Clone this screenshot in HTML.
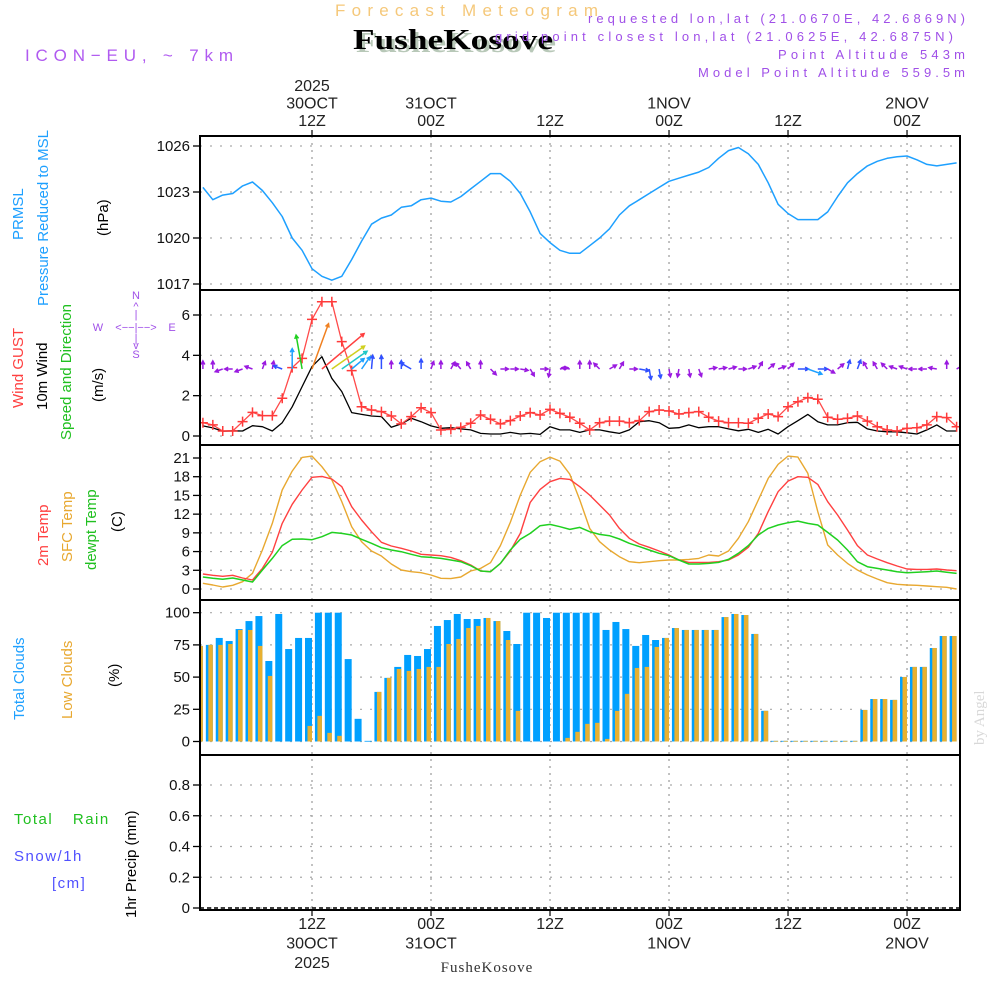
<!DOCTYPE html>
<html><head><meta charset="utf-8"><title>Forecast Meteogram FusheKosove</title>
<style>
html,body{margin:0;padding:0;background:#fff;}
svg{display:block;font-family:"Liberation Sans",sans-serif;}
.tk{font-size:15px;fill:#111;}
</style></head>
<body>
<svg id="chart" width="1000" height="1000" viewBox="0 0 1000 1000" xmlns="http://www.w3.org/2000/svg">
<defs>
<clipPath id="plotclip"><rect x="200" y="136" width="760" height="774"/></clipPath>
</defs>
<!-- header -->
<text x="335" y="16" font-size="17" fill="#f5c87a" textLength="263" lengthAdjust="spacing">Forecast Meteogram</text>
<text x="356" y="52" font-size="28" font-weight="bold" font-family="Liberation Serif, serif" fill="#b8c8b8" textLength="200" lengthAdjust="spacingAndGlyphs">FusheKosove</text>
<text x="353" y="49" font-size="28" font-weight="bold" font-family="Liberation Serif, serif" fill="#000" textLength="200" lengthAdjust="spacingAndGlyphs">FusheKosove</text>
<text x="25" y="61" font-size="17" fill="#b05af0" textLength="208" lengthAdjust="spacing">ICON−EU, ~ 7km</text>
<g font-size="13" fill="#a050e8">
<text x="588" y="23" textLength="377" lengthAdjust="spacing">requested lon,lat (21.0670E, 42.6869N)</text>
<text x="495" y="41" textLength="458" lengthAdjust="spacing">grid point closest lon,lat (21.0625E, 42.6875N)</text>
<text x="778" y="59" textLength="187" lengthAdjust="spacing">Point Altitude 543m</text>
<text x="698" y="77" textLength="267" lengthAdjust="spacing">Model Point Altitude 559.5m</text>
</g>
<text transform="translate(984,745) rotate(-90)" font-size="15" fill="#d8d8d8" font-family="Liberation Serif, serif">by Angel</text>
<text x="487" y="972" text-anchor="middle" font-size="15" font-family="Liberation Serif, serif" fill="#333" letter-spacing="1">FusheKosove</text>

<!-- left axis titles -->
<g font-size="15">
<text transform="translate(23,240) rotate(-90)" fill="#1ea0ff">PRMSL</text>
<text transform="translate(48,306) rotate(-90)" fill="#1ea0ff">Pressure Reduced to MSL</text>
<text transform="translate(108,236) rotate(-90)" fill="#000">(hPa)</text>
</g>
<g font-size="15">
<text transform="translate(23,408) rotate(-90)" fill="#ff4040">Wind GUST</text>
<text transform="translate(47,410) rotate(-90)" fill="#000">10m Wind</text>
<text transform="translate(71,440) rotate(-90)" fill="#20c020">Speed and Direction</text>
<text transform="translate(103,402) rotate(-90)" fill="#000">(m/s)</text>
</g>
<g font-size="11" fill="#a050e8" text-anchor="middle">
<text x="136" y="299">N</text><text x="136" y="310">^</text><text x="136" y="318">|</text>
<text x="136" y="331">&lt;−−|−−&gt;</text>
<text x="98" y="331">W</text><text x="172" y="331">E</text>
<text x="136" y="342">|</text><text x="136" y="349">v</text><text x="136" y="358">S</text>
</g>
<g font-size="15">
<text transform="translate(48,566) rotate(-90)" fill="#ff4040">2m Temp</text>
<text transform="translate(72,562) rotate(-90)" fill="#e8a830">SFC Temp</text>
<text transform="translate(96,570) rotate(-90)" fill="#20c020">dewpt Temp</text>
<text transform="translate(122,532) rotate(-90)" fill="#000">(C)</text>
</g>
<g font-size="15">
<text transform="translate(24,720) rotate(-90)" fill="#1ea0ff">Total Clouds</text>
<text transform="translate(72,719) rotate(-90)" fill="#e8a830">Low Clouds</text>
<text transform="translate(119,687) rotate(-90)" fill="#000">(%)</text>
</g>
<g font-size="15" letter-spacing="1.5">
<text x="14" y="824" fill="#20c020">Total <tspan dx="14">Rain</tspan></text>
<text x="14" y="861" fill="#5050ff">Snow/1h</text>
<text x="52" y="888" fill="#5050ff">[cm]</text>
<text transform="translate(136,918) rotate(-90)" fill="#000" letter-spacing="0">1hr Precip (mm)</text>
</g>

<g id="grid"></g>
<g id="bars" clip-path="url(#plotclip)"></g>
<g id="lines" clip-path="url(#plotclip)"></g>
<g id="axes"></g>
</svg>
<script>
// ---------- data (hourly, starting 30OCT 01Z) ----------
const timeLabelsTop = [["2025","30OCT","12Z"],["31OCT","00Z"],["12Z"],["1NOV","00Z"],["12Z"],["2NOV","00Z"]];
const timeLabelsBottom = [["12Z","30OCT","2025"],["00Z","31OCT"],["12Z"],["00Z","1NOV"],["12Z"],["00Z","2NOV"]];
const timeLabelHours = [12,24,36,48,60,72];
const pressure = [1023.3,1022.5,1022.8,1022.9,1023.4,1023.65,1023.1,1022.3,1021.4,1020.0,
1019.2,1018.0,1017.5,1017.25,1017.5,1018.6,1019.8,1020.9,1021.3,1021.5,
1022.0,1022.1,1022.5,1022.6,1022.4,1022.35,1022.7,1023.2,1023.7,1024.2,
1024.2,1023.7,1022.9,1021.7,1020.3,1019.7,1019.2,1019.0,1019.0,1019.5,
1020.0,1020.6,1021.5,1022.1,1022.5,1022.9,1023.3,1023.7,1023.9,1024.1,
1024.3,1024.6,1025.2,1025.7,1025.9,1025.5,1024.8,1023.6,1022.2,1021.6,
1021.2,1021.2,1021.2,1021.7,1022.7,1023.6,1024.2,1024.7,1025.0,1025.2,
1025.3,1025.35,1025.1,1024.8,1024.7,1024.8,1024.9];
const pressureTicks = [1017,1020,1023,1026];
const gust = [0.66,0.55,0.25,0.25,0.71,1.17,1.01,1.01,1.87,3.39,
3.85,5.78,6.66,6.66,4.68,3.24,1.45,1.29,1.21,0.99,
0.6,0.96,1.40,1.16,0.3,0.33,0.43,0.63,1.04,0.83,
0.6,0.76,0.99,1.16,1.04,1.32,1.12,0.93,0.63,0.3,
0.66,0.74,0.74,0.66,0.76,1.21,1.29,1.24,1.09,1.16,
1.21,0.93,0.74,0.66,0.66,0.63,0.88,1.09,0.96,1.45,
1.7,1.9,1.82,0.93,0.83,0.88,0.99,0.74,0.46,0.3,
0.25,0.38,0.41,0.55,0.96,0.91,0.46];
const windSpeed = [0.5,0.4,0.24,0.26,0.25,0.51,0.46,0.25,0.66,1.45,
2.45,3.44,3.93,2.86,2.2,1.16,1.07,0.99,0.96,0.43,
0.6,0.88,0.71,0.5,0.38,0.41,0.35,0.3,0.13,0.1,
0.1,0.18,0.1,0.13,0.08,0.46,0.3,0.3,0.18,0.3,
0.3,0.21,0.13,0.3,0.71,0.76,0.66,0.38,0.41,0.55,
0.41,0.46,0.46,0.35,0.26,0.33,0.18,0.33,0.1,0.46,
0.76,1.07,0.71,0.55,0.55,0.66,0.68,0.35,0.25,0.21,
0.21,0.16,0.1,0.3,0.55,0.25,0.25];
const windDir = [90,90,200,180,200,160,70,80,160,90,
100,70,40,35,35,40,55,85,90,90,
90,150,90,70,90,60,130,120,90,-45,
0,0,-10,-60,0,-100,10,170,90,90,
135,30,60,0,-10,-80,-80,-80,-100,-80,
-70,10,10,15,0,20,60,40,20,45,
0,-20,0,-30,40,75,70,120,120,135,
160,160,180,180,170,90,30];
const windTicks = [0,2,4,6];
const temp2m = [2.4,2.19,2.03,2.19,1.76,1.44,3.31,5.88,10.52,13.57,
15.87,17.9,18.05,17.63,16.4,13.2,11.06,9.19,7.48,6.89,
6.52,6.09,5.56,5.45,5.34,5.07,4.54,3.85,2.88,2.78,
4.11,6.09,8.92,13.89,15.97,17.2,17.73,17.57,16.4,15.06,
13.46,11.86,9.72,8.12,7.21,6.68,6.09,5.45,4.65,4.27,
4.27,4.27,4.38,4.65,5.45,6.68,8.92,12.4,15.6,17.3,
18.0,17.9,16.77,14.0,11.86,9.46,6.95,5.45,4.81,4.22,
3.69,3.2,3.15,3.15,3.2,3.04,2.94];
const tempSfc = [0.91,0.64,0.32,0.59,1.17,2.51,6.25,10.52,15.87,18.9,
21.1,21.3,19.6,17.5,14.0,9.99,7.58,6.09,5.29,4.0,
3.04,2.78,2.61,2.24,1.71,1.66,1.92,2.88,3.31,4.22,
6.95,10.68,15.06,18.7,20.4,21.15,20.5,18.4,14.26,9.72,
7.58,6.25,5.18,4.38,4.22,4.38,4.54,4.65,4.65,4.75,
4.91,5.45,5.29,6.09,8.12,10.79,14.26,17.73,19.97,21.3,
21.15,18.54,12.39,7.05,5.45,4.11,3.04,2.24,1.6,1.01,
0.75,0.64,0.59,0.48,0.37,0.27,0.0];
const dewpt = [1.92,1.71,1.55,1.76,1.44,1.12,3.04,4.91,6.95,7.96,
8.01,7.91,8.39,9.08,8.92,8.65,7.96,7.32,6.62,6.25,
5.98,5.56,5.18,5.07,4.91,4.65,4.38,3.74,2.88,2.78,
4.11,6.25,7.96,8.92,10.15,10.36,9.99,9.56,9.88,9.19,
8.76,8.55,8.01,7.32,6.79,6.25,5.72,5.34,4.65,4.0,
4.0,4.11,4.27,4.75,5.72,6.95,8.65,9.72,10.26,10.63,
10.89,10.52,10.26,9.08,7.85,6.25,4.38,3.58,3.31,3.04,
2.78,2.61,2.67,2.78,2.88,2.67,2.5];
const tempTicks = [0,3,6,9,12,15,18,21];
const totalClouds = [74.2,75,80.4,78,87.3,93.5,97.4,62.5,99,71.8,
80.4,80.4,100,100,100,64,17.6,0.5,38.5,49.4,
57.9,67.2,66.4,71.8,89.7,94.3,99,95.1,95.1,95.9,
93.5,85.8,75.7,100,100,95.9,100,100,100,100,
100,86.6,92.8,87.3,74.2,82.7,78.8,80.4,88.1,86.6,
86.6,86.6,86.6,96.6,99,98.2,83.5,23.8,0.5,0.5,
0.5,0.5,0.5,0.5,0.5,0.5,0.5,24.5,33,33,
32.3,50.1,57.9,57.9,72.6,81.9,81.9];
const lowClouds = [74.2,75,75,75.7,86.6,86.6,74.2,50.9,0,0,
0,12.1,19.9,6.7,4.4,0,0,0,38.5,49.4,
56.3,54.8,56.3,57.9,57.9,75.7,79.6,88.1,89.7,95.9,
93.5,78.8,23.8,0,0,0,0,2.8,7.5,13.7,
14.5,2,23.8,37,57.1,57.9,73.4,80.4,88.1,86.6,
86.6,86.6,86.6,96.6,99,98.2,83.5,23.8,0.5,0.5,
0.5,0.5,0.5,0.5,0.5,0.5,0.5,24.5,33,33,
32.3,50.1,57.9,57.9,72.6,81.9,81.9];
const cloudTicks = [0,25,50,75,100];
const precip = [0,0,0,0,0,0,0,0,0,0,0,0,0,0,0,0,0,0,0,0,0,0,0,0,0,0,0,0,0,0,0,0,0,0,0,0,0,0,0,0,0,0,0,0,0,0,0,0,0,0,0,0,0,0,0,0,0,0,0,0,0,0,0,0,0,0,0,0,0,0,0,0,0,0,0,0,0];
const precipTicks = [0,0.2,0.4,0.6,0.8];

// ---------- scales ----------
const PX0=200, PX1=960;
function xH(h){ return 312 + (h-12)*9.917; }
function xI(i){ return xH(i+1); }
function lin(d0,d1,r0,r1){ return v => r0 + (v-d0)*(r1-r0)/(d1-d0); }
const yP = lin(1017,1026,284,146);
const yW = lin(0,6,436,315);
const yT = lin(0,21,589,458);
const yC = lin(0,100,741.5,612.7);
const yR = lin(0,0.8,908,785);
const panels = [[136,290],[290,445],[445,600],[600,755],[755,910]];

const NS="http://www.w3.org/2000/svg";
function mk(tag, attrs, parent){ const e=document.createElementNS(NS,tag); for(const k in attrs) e.setAttribute(k,attrs[k]); parent.appendChild(e); return e; }
const grid=document.getElementById('grid'), axes=document.getElementById('axes'), bars=document.getElementById('bars'), lines=document.getElementById('lines');

timeLabelHours.forEach((h,k)=>{
  const x=xH(h);
  const vl=mk('line',{x1:x,y1:136,x2:x,y2:910,stroke:'#999','stroke-width':1.2,'stroke-dasharray':'2,5'},grid);
  
  
  mk('line',{x1:x,y1:130,x2:x,y2:136,stroke:'#000','stroke-width':1.2},axes);
  mk('line',{x1:x,y1:910,x2:x,y2:916,stroke:'#000','stroke-width':1.2},axes);
  const top=timeLabelsTop[k];
  top.forEach((s,j)=>{
    const t=mk('text',{x:x,y:126-(top.length-1-j)*17.5,'text-anchor':'middle','font-size':16,fill:'#222'},axes);
    t.textContent=s;
    
    
  });
  timeLabelsBottom[k].forEach((s,j)=>{
    const t=mk('text',{x:x,y:929+j*19.5,'text-anchor':'middle','font-size':16,fill:'#222'},axes);
    t.textContent=s;
    
    
  });
});

function yAxis(ticks, sc, fmt, name){
  ticks.forEach(v=>{
    const y=sc(v);
    const g=mk('line',{x1:PX0,y1:y,x2:PX1,y2:y,stroke:'#aaa','stroke-width':1.2,'stroke-dasharray':'2,8'},grid);
    
    
    mk('line',{x1:PX0-7,y1:y,x2:PX0,y2:y,stroke:'#000','stroke-width':1.3},axes);
    const t=mk('text',{x:PX0-10,y:y+5,'text-anchor':'end',class:'tk'},axes);
    t.textContent=fmt(v);
    
    
  });
}
yAxis(pressureTicks,yP,v=>String(v),'pressure');
yAxis(windTicks,yW,v=>String(v),'wind');
yAxis(tempTicks,yT,v=>String(v),'temp');
yAxis(cloudTicks,yC,v=>String(v),'cloud');
yAxis(precipTicks,yR,v=>v===0?'0':v.toFixed(1),'precip');

panels.forEach(p=>{
  const r=mk('rect',{x:PX0,y:p[0],width:PX1-PX0,height:p[1]-p[0],fill:'none',stroke:'#000','stroke-width':2},axes);
  
  
});

totalClouds.forEach((v,i)=>{
  const x=xI(i), y=yC(v);
  const b=mk('rect',{x:x-7,y:y,width:7,height:Math.max(yC(0)-y,0.8),fill:'#00a0ff'},bars);
  
  
});
lowClouds.forEach((v,i)=>{
  if(v<=0) return;
  const x=xI(i), y=yC(v);
  const b=mk('rect',{x:x-4.5,y:y,width:4.5,height:Math.max(yC(0)-y,0.8),fill:'#e8b030'},bars);
  
  
});

const pz=mk('line',{x1:PX0,y1:yR(0),x2:PX1,y2:yR(0),stroke:'#000','stroke-width':1.5,'stroke-dasharray':'4,3'},lines);


precip.forEach((v,i)=>{
  if(v<=0) return;
  const x=xI(i), y=yR(v);
  const b=mk('rect',{x:x-7,y:y,width:7,height:yR(0)-y,fill:'#20c020'},bars);
  
  
});

function poly(arr, sc, color, w, name){
  const pts=arr.map((v,i)=>xI(i).toFixed(1)+','+sc(v).toFixed(1)).join(' ');
  const p=mk('polyline',{points:pts,fill:'none',stroke:color,'stroke-width':w,'stroke-linejoin':'round'},lines);
  
  
}
poly(pressure,yP,'#1ea0ff',1.5,'pressure-line');
poly(tempSfc,yT,'#e8a830',1.4,'sfc-temp-line');
poly(temp2m,yT,'#ff4040',1.4,'temp-2m-line');
poly(dewpt,yT,'#20d020',1.5,'dewpoint-line');
poly(windSpeed,yW,'#000',1.3,'wind-speed-line');
poly(gust,yW,'#ff4a4a',1.3,'gust-line');
gust.forEach((v,i)=>{
  const x=xI(i), y=yW(v);
  const g=mk('path',{d:`M${x-5},${y}H${x+5}M${x},${y-5}V${y+5}`,stroke:'#ff3a3a','stroke-width':1.5,fill:'none'},lines);
  
  
});

function arrowColor(s){
  if(s<0.6) return '#9a1ae0';
  if(s<1.0) return '#3050ff';
  if(s<1.6) return '#1ea0ff';
  if(s<2.3) return '#20c8c8';
  if(s<2.6) return '#20d020';
  if(s<3.0) return '#d0d020';
  if(s<3.6) return '#f08020';
  return '#ff4040';
}
windDir.forEach((d,i)=>{
  const s=windSpeed[i];
  const L=Math.max(8,s*14);
  const a=d*Math.PI/180;
  const x0=xI(i), y0=369;
  const x1=x0+Math.cos(a)*L, y1=y0-Math.sin(a)*L;
  const hl=4;
  const h1x=x1-Math.cos(a-0.5)*hl, h1y=y1+Math.sin(a-0.5)*hl;
  const h2x=x1-Math.cos(a+0.5)*hl, h2y=y1+Math.sin(a+0.5)*hl;
  const c=arrowColor(s);
  const ar=mk('path',{d:`M${x0.toFixed(1)},${y0}L${x1.toFixed(1)},${y1.toFixed(1)}M${h1x.toFixed(1)},${h1y.toFixed(1)}L${x1.toFixed(1)},${y1.toFixed(1)}L${h2x.toFixed(1)},${h2y.toFixed(1)}`,stroke:c,'stroke-width':1.5,fill:'none'},lines);
  
  
});
</script>
</body></html>
